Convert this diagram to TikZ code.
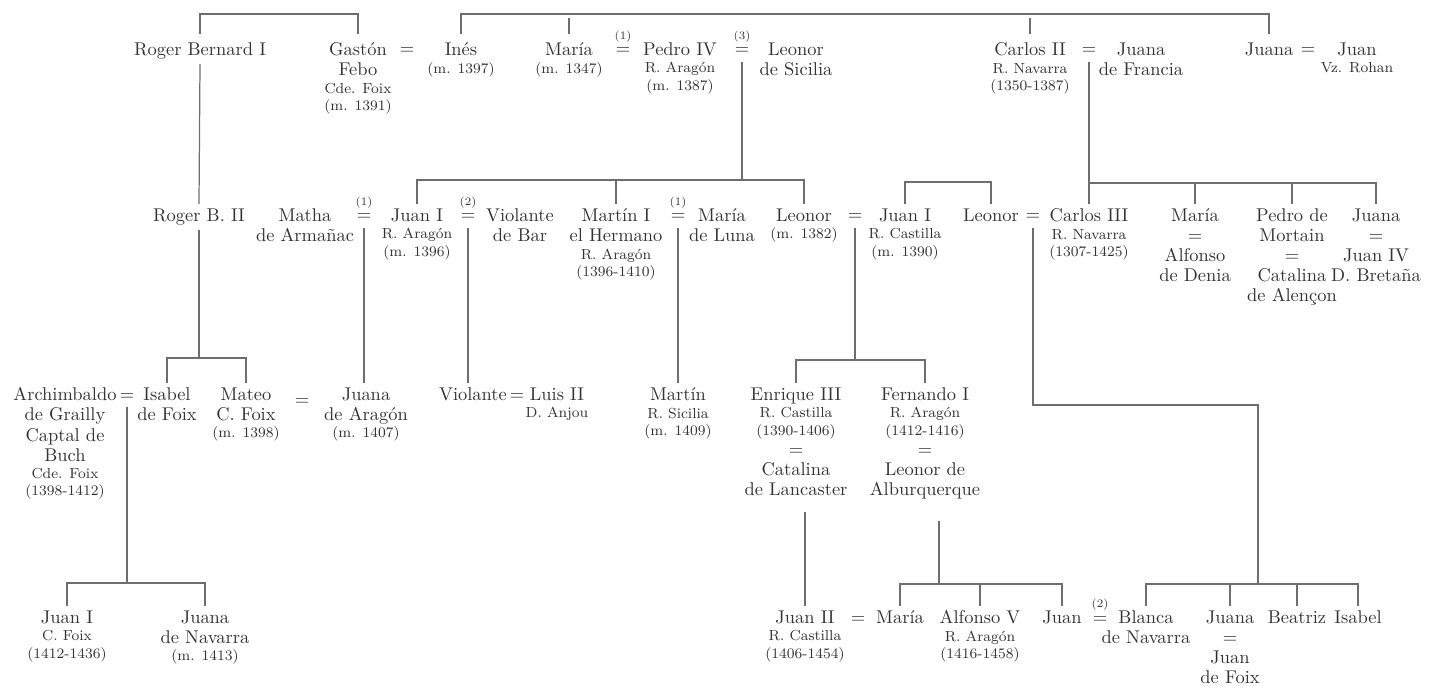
\documentclass[tikz,border=0pt]{standalone}
\usepackage{fontspec}
\usetikzlibrary{positioning}
\definecolor{ink}{HTML}{333333}
\definecolor{rule}{HTML}{6E6E6E}
\newcommand{\smline}[1]{{\fontsize{8.3}{9.6}\selectfont #1}}

\begin{document}
\begin{tikzpicture}[
    x=0.02cm, y=-0.02cm,
    person/.style={align=center, anchor=north, inner xsep=1pt, inner ysep=2.5pt,
        text=ink, font=\fontsize{10.5}{11.4}\selectfont},
    wed/.style={anchor=base, inner sep=0pt, text=ink,
        font=\fontsize{10.5}{11.4}\selectfont},
    num/.style={font=\fontsize{6.5}{7}\selectfont, inner sep=0pt, text=ink},
    label distance=3pt,
    branch/.style={draw=rule, line width=0.7pt},
    tie/.style={branch, shorten <=4pt},
    roof/.style={branch, shorten <=2pt, shorten >=2pt}
]
\useasboundingbox (0,0) rectangle (1430,689);

% first generation
\node[person] (rb1) at (200,38) {Roger Bernard I};
\node[person] (gaston) at (358,38) {Gastón\\Febo\\[-1.5pt]\smline{Cde. Foix}\\[-1.5pt]\smline{(m. 1391)}};
\node[wed] (w1) at (407,55) {=};
\node[person] (ines) at (461,38) {Inés\\[-1.5pt]\smline{(m. 1397)}};
\node[person] (maria1) at (569,38) {María\\[-1.5pt]\smline{(m. 1347)}};
\node[wed, label={[num]above:(1)}] (w2) at (623,55) {=};
\node[person] (pedro) at (680,38) {Pedro IV\\[-1.5pt]\smline{R. Aragón}\\[-1.5pt]\smline{(m. 1387)}};
\node[wed, label={[num]above:(3)}] (w3) at (742,55) {=};
\node[person] (leonorS) at (796,38) {Leonor\\de Sicilia};
\node[person] (carlos2) at (1030,38) {Carlos II\\[-1.5pt]\smline{R. Navarra}\\[-1.5pt]\smline{(1350-1387)}};
\node[wed] (w4) at (1089,55) {=};
\node[person] (juanaF) at (1141,38) {Juana\\de Francia};
\node[person] (juanaR) at (1269,38) {Juana};
\node[wed] (w5) at (1308,55) {=};
\node[person] (juanR) at (1357,38) {Juan\\[-1.5pt]\smline{Vz. Rohan}};

% second generation
\node[person] (rb2) at (199,204) {Roger B. II};
\node[person] (matha) at (305,204) {Matha\\de Armañac};
\node[wed, label={[num]above:(1)}] (w6) at (364,221) {=};
\node[person] (juanA) at (417,204) {Juan I\\[-1.5pt]\smline{R. Aragón}\\[-1.5pt]\smline{(m. 1396)}};
\node[wed, label={[num]above:(2)}] (w7) at (468,221) {=};
\node[person] (violB) at (520,204) {Violante\\de Bar};
\node[person] (martin1) at (616,204) {Martín I\\el Hermano\\[-1.5pt]\smline{R. Aragón}\\[-1.5pt]\smline{(1396-1410)}};
\node[wed, label={[num]above:(1)}] (w8) at (678,221) {=};
\node[person] (mariaL) at (722,204) {María\\de Luna};
\node[person] (leonorC) at (804,204) {Leonor\\[-1.5pt]\smline{(m. 1382)}};
\node[wed] (w9) at (855,221) {=};
\node[person] (juanC) at (905,204) {Juan I\\[-1.5pt]\smline{R. Castilla}\\[-1.5pt]\smline{(m. 1390)}};
\node[person] (leonorN) at (991,204) {Leonor};
\node[wed] (w10) at (1033,221) {=};
\node[person] (carlos3) at (1089,204) {Carlos III\\[-1.5pt]\smline{R. Navarra}\\[-1.5pt]\smline{(1307-1425)}};
\node[person] (mariaD) at (1195,204) {María\\=\\Alfonso\\de Denia};
\node[person] (pedroM) at (1292,204) {Pedro de\\Mortain\\=\\Catalina\\de Alençon};
\node[person] (juanaB) at (1376,204) {Juana\\=\\Juan IV\\D. Bretaña};

% third generation
\node[person] (archi) at (65,383) {Archimbaldo\\de Grailly\\Captal de\\Buch\\[-1.5pt]\smline{Cde. Foix}\\[-1.5pt]\smline{(1398-1412)}};
\node[wed] (w11) at (127,400) {=};
\node[person] (isabelF) at (167,383) {Isabel\\de Foix};
\node[person] (mateo) at (246,383) {Mateo\\C. Foix\\[-1.5pt]\smline{(m. 1398)}};
\node[wed] (w12) at (302,405) {=};
\node[person] (juanaA) at (366,383) {Juana\\de Aragón\\[-1.5pt]\smline{(m. 1407)}};
\node[person] (violante) at (473,383) {Violante};
\node[wed] (w13) at (517,400) {=};
\node[person] (luis) at (557,383) {Luis II\\[-1.5pt]\smline{D. Anjou}};
\node[person] (martin2) at (678,383) {Martín\\[-1.5pt]\smline{R. Sicilia}\\[-1.5pt]\smline{(m. 1409)}};
\node[person] (enrique) at (796,383) {Enrique III\\[-1.5pt]\smline{R. Castilla}\\[-1.5pt]\smline{(1390-1406)}\\=\\Catalina\\de Lancaster};
\node[person] (fernando) at (925,383) {Fernando I\\[-1.5pt]\smline{R. Aragón}\\[-1.5pt]\smline{(1412-1416)}\\=\\Leonor de\\Alburquerque};

% fourth generation
\node[person] (juanF) at (67,606) {Juan I\\[-1.5pt]\smline{C. Foix}\\[-1.5pt]\smline{(1412-1436)}};
\node[person] (juanaN) at (205,606) {Juana\\de Navarra\\[-1.5pt]\smline{(m. 1413)}};
\node[person] (juan2) at (805,606) {Juan II\\[-1.5pt]\smline{R. Castilla}\\[-1.5pt]\smline{(1406-1454)}};
\node[wed] (w14) at (858,623) {=};
\node[person] (mariaA) at (900,606) {María};
\node[person] (alfonso) at (980,606) {Alfonso V\\[-1.5pt]\smline{R. Aragón}\\[-1.5pt]\smline{(1416-1458)}};
\node[person] (juanB) at (1062,606) {Juan};
\node[wed, label={[num]above:(2)}] (w15) at (1100,623) {=};
\node[person] (blanca) at (1146,606) {Blanca\\de Navarra};
\node[person] (juanaJ) at (1230,606) {Juana\\=\\Juan\\de Foix};
\node[person] (beatriz) at (1297,606) {Beatriz};
\node[person] (isabelN) at (1358,606) {Isabel};

\coordinate (top1) at (280,14);
\coordinate (top2) at (800,14);
\coordinate (bar3) at (742,180);
\coordinate (bar4) at (948,182);
\coordinate (bar5) at (1089,183);
\coordinate (bar6) at (199,358);
\coordinate (bar7) at (855,360);
\coordinate (bend) at (1150,405);
\coordinate (bar8) at (1258,584);
\coordinate (bar9) at (127,583);
\coordinate (bar10) at (939,584);

\draw[roof] (rb1.north) |- (top1) -| (gaston.north);
\draw[roof] (ines.north) |- (top2) -| (juanaR.north);
\draw[roof] (maria1.north) -- (maria1.north |- top2);
\draw[roof] (carlos2.north) -- (carlos2.north |- top2);

\draw[tie] (w3.south) -- (bar3);
\draw[branch] (juanA.north) |- (bar3) -| (leonorC.north);
\draw[branch] (martin1.north) -- (martin1.north |- bar3);
\draw[branch] (juanC.north) |- (bar4) -| (leonorN.north);
\draw[tie] (w4.south) -- (bar5);
\draw[branch] (carlos3.north) |- (bar5) -| (juanaB.north);
\draw[branch] (mariaD.north) -- (mariaD.north |- bar5);
\draw[branch] (pedroM.north) -- (pedroM.north |- bar5);

\draw[branch] (rb1.south) -- (rb2.north);
\draw[branch] (rb2.south) -- (bar6);
\draw[branch] (isabelF.north) |- (bar6) -| (mateo.north);
\draw[tie] (w6.south) -- (w6.south |- juanaA.north);
\draw[tie] (w7.south) -- (w7.south |- violante.north);
\draw[tie] (w8.south) -- (martin2.north);
\draw[tie] (w9.south) -- (bar7);
\draw[branch] (enrique.north) |- (bar7) -| (fernando.north);
\draw[tie] (w10.south) |- (bend) -| (bar8);
\draw[branch] (blanca.north) |- (bar8) -| (isabelN.north);
\draw[branch] (juanaJ.north) -- (juanaJ.north |- bar8);
\draw[branch] (beatriz.north) -- (beatriz.north |- bar8);

\draw[tie] (w11.south) -- (bar9);
\draw[branch] (juanF.north) |- (bar9) -| (juanaN.north);
\draw[branch, shorten <=7pt] (enrique.south -| juan2.north) -- (juan2.north);
\draw[branch, shorten <=10pt] (fernando.south -| bar10) -- (bar10);
\draw[branch] (mariaA.north) |- (bar10) -| (juanB.north);
\draw[branch] (alfonso.north) -- (alfonso.north |- bar10);
\end{tikzpicture}
\end{document}
